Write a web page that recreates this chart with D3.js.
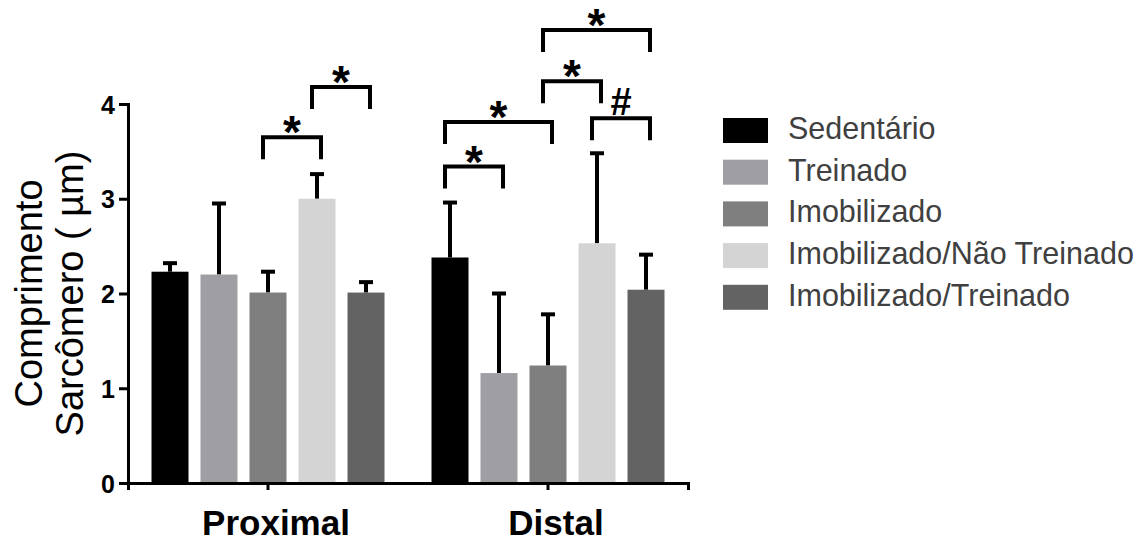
<!DOCTYPE html>
<html>
<head>
<meta charset="utf-8">
<script src="https://cdn.jsdelivr.net/npm/d3@7"></script>
<style>
  body { margin: 0; background: #fff; }
  svg { display: block; }
</style>
</head>
<body>
<script>
var groups = ["Proximal", "Distal"];
var seriesNames = ["Sedentário", "Treinado", "Imobilizado", "Imobilizado/Não Treinado", "Imobilizado/Treinado"];
var seriesColors = ["#000000", "#9e9ea3", "#7f7f7f", "#d4d4d4", "#636363"];

var proximalMeans = [2.23, 2.20, 2.01, 3.00, 2.01];
var proximalSD = [0.09, 0.75, 0.22, 0.26, 0.11];
var distalMeans = [2.38, 1.16, 1.24, 2.53, 2.04];
var distalSD = [0.58, 0.84, 0.54, 0.95, 0.37];

var yTicks = [0, 1, 2, 3, 4];

// significance brackets: group index, from bar, to bar, height (µm), mark
var bracketGroup = [0, 0, 1, 1, 1, 1, 1];
var bracketFrom = [2, 3, 0, 0, 2, 3, 2];
var bracketTo = [3, 4, 1, 2, 3, 4, 4];
var bracketLevel = [3.65, 4.18, 3.34, 3.81, 4.24, 3.85, 4.78];
var bracketMark = ["*", "*", "*", "*", "*", "#", "*"];

var width = 1139, height = 541;
var plot = { left: 128, right: 688, top: 104, bottom: 483 };
var legLen = 22;

var svg = d3.select("body").append("svg")
    .attr("width", width)
    .attr("height", height);

var x0 = d3.scaleBand()
    .domain(groups)
    .range([plot.left, plot.right])
    .padding(0);

var x1 = d3.scaleBand()
    .domain(d3.range(seriesNames.length))
    .range([-116.5, 116.5])
    .paddingInner(0.245)
    .paddingOuter(0);

var y = d3.scaleLinear()
    .domain([0, 4])
    .range([plot.bottom, plot.top]);

var rows = [];
groups.forEach(function(g, gi) {
    var means = gi === 0 ? proximalMeans : distalMeans;
    var sds = gi === 0 ? proximalSD : distalSD;
    means.forEach(function(m, si) {
        rows.push({ group: g, series: si, mean: m, sd: sds[si] });
    });
});

function barCenter(g, si) {
    return x0(g) + x0.bandwidth() / 2 + x1(si) + x1.bandwidth() / 2;
}

// error bars (drawn first so bar covers the lower part)
var err = svg.append("g").selectAll("g").data(rows).enter().append("g");
err.append("line")
    .attr("x1", function(d) { return barCenter(d.group, d.series); })
    .attr("x2", function(d) { return barCenter(d.group, d.series); })
    .attr("y1", function(d) { return y(d.mean); })
    .attr("y2", function(d) { return y(d.mean + d.sd); })
    .attr("stroke", "#000")
    .attr("stroke-width", 4);
err.append("line")
    .attr("x1", function(d) { return barCenter(d.group, d.series) - 7; })
    .attr("x2", function(d) { return barCenter(d.group, d.series) + 7; })
    .attr("y1", function(d) { return y(d.mean + d.sd); })
    .attr("y2", function(d) { return y(d.mean + d.sd); })
    .attr("stroke", "#000")
    .attr("stroke-width", 4);

// bars
svg.append("g").selectAll("rect").data(rows).enter().append("rect")
    .attr("x", function(d) { return x0(d.group) + x0.bandwidth() / 2 + x1(d.series); })
    .attr("y", function(d) { return y(d.mean); })
    .attr("width", x1.bandwidth())
    .attr("height", function(d) { return y(0) - y(d.mean); })
    .attr("fill", function(d) { return seriesColors[d.series]; });

// y axis
var yAxis = svg.append("g")
    .attr("transform", "translate(" + plot.left + ",0)")
    .call(d3.axisLeft(y).tickValues(yTicks).tickFormat(d3.format("d")).tickSizeOuter(0).tickSize(9).tickPadding(4));
yAxis.select(".domain").attr("stroke-width", 3);
yAxis.selectAll(".tick line").attr("stroke-width", 3);
yAxis.selectAll(".tick text")
    .attr("font-family", "Liberation Sans, Arial, sans-serif")
    .attr("font-weight", "bold")
    .attr("font-size", 25)
    .attr("fill", "#000")
    .attr("dy", "0.36em");

// x axis
var xAxis = svg.append("g")
    .attr("transform", "translate(0," + plot.bottom + ")")
    .call(d3.axisBottom(x0).tickSizeOuter(0).tickSize(7).tickPadding(20));
xAxis.select(".domain").attr("stroke-width", 3);
xAxis.selectAll(".tick line").attr("stroke-width", 3);
xAxis.selectAll(".tick text")
    .attr("font-family", "Liberation Sans, Arial, sans-serif")
    .attr("font-weight", "bold")
    .attr("font-size", 35)
    .attr("fill", "#000")
    .attr("dx", 8);

// y axis title
var yTitle = svg.append("text")
    .attr("transform", "translate(0," + ((plot.top + plot.bottom) / 2) + ") rotate(-90)")
    .attr("text-anchor", "middle")
    .attr("font-family", "Liberation Sans, Arial, sans-serif")
    .attr("font-size", 38)
    .attr("fill", "#000");
yTitle.append("tspan").attr("x", 0).attr("y", 42).text("Comprimento");
yTitle.append("tspan").attr("x", 0).attr("y", 83).text("Sarcômero ( µm)");

// significance brackets
var bracketData = bracketLevel.map(function(lv, i) {
    var g = groups[bracketGroup[i]];
    return {
        x1: barCenter(g, bracketFrom[i]) - 5,
        x2: barCenter(g, bracketTo[i]) + 4,
        y: y(lv),
        mark: bracketMark[i]
    };
});
var br = svg.append("g").selectAll("g").data(bracketData).enter().append("g");
br.append("path")
    .attr("d", function(d) {
        return "M" + d.x1 + "," + (d.y + legLen) + "V" + d.y + "H" + d.x2 + "V" + (d.y + legLen);
    })
    .attr("fill", "none")
    .attr("stroke", "#000")
    .attr("stroke-width", 4);
br.append("text")
    .attr("x", function(d) { return (d.x1 + d.x2) / 2; })
    .attr("y", function(d) { return d.mark === "*" ? d.y + 11 : d.y - 3; })
    .attr("text-anchor", "middle")
    .attr("font-family", "Liberation Sans, Arial, sans-serif")
    .attr("font-weight", "bold")
    .attr("font-size", function(d) { return d.mark === "*" ? 46 : 38; })
    .attr("fill", "#000")
    .text(function(d) { return d.mark; });

// legend
var legend = svg.append("g").selectAll("g").data(seriesNames).enter().append("g")
    .attr("transform", function(d, i) { return "translate(723," + (118 + i * 41.7) + ")"; });
legend.append("rect")
    .attr("width", 45)
    .attr("height", 25)
    .attr("fill", function(d, i) { return seriesColors[i]; });
legend.append("text")
    .attr("x", 65)
    .attr("y", 21)
    .attr("font-family", "Liberation Sans, Arial, sans-serif")
    .attr("font-size", 30.5)
    .attr("fill", "#404040")
    .text(function(d) { return d; });
</script>
</body>
</html>
